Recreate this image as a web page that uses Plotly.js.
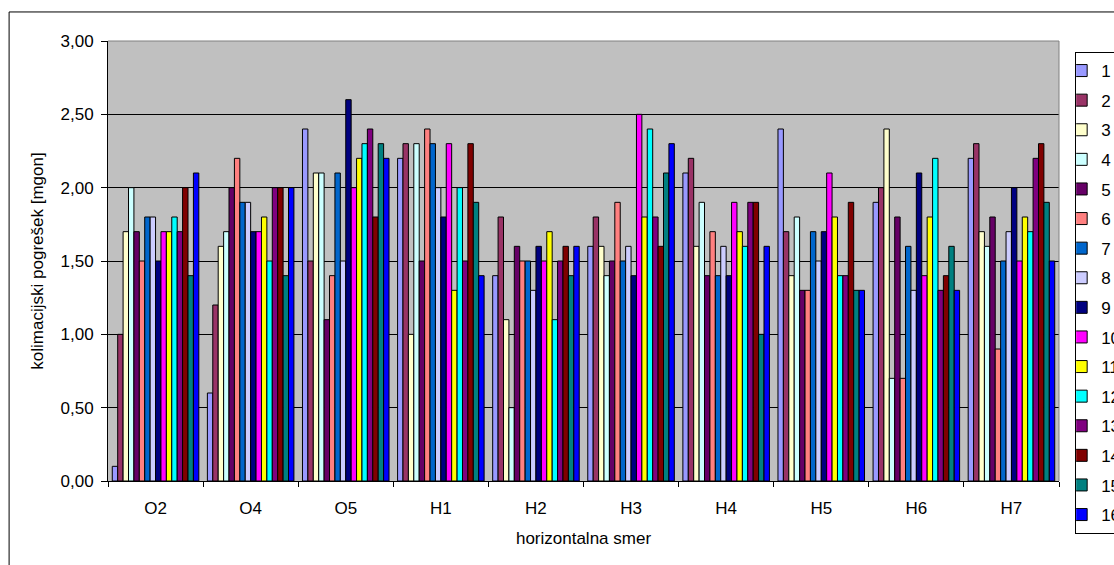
<!DOCTYPE html>
<html>
<head>
<meta charset="utf-8">
<script src="https://cdn.plot.ly/plotly-3.0.1.min.js"></script>
<style>
  html, body { margin: 0; padding: 0; background: #fff; }
  #chart { width: 1114px; height: 565px; }
</style>
</head>
<body>
<div id="chart"></div>
<script>
// Stations (horizontal directions) on the category axis
const categories = ['O2', 'O4', 'O5', 'H1', 'H2', 'H3', 'H4', 'H5', 'H6', 'H7'];

// Series labels (measurement sets 1..16)
const seriesNames = ['1', '2', '3', '4', '5', '6', '7', '8', '9', '10', '11', '12', '13', '14', '15', '16'];

// Collimation error [mgon] per measurement set, one value per direction
const s1  = [0.1, 0.6, 2.4, 2.2, 1.4, 1.6, 2.1, 2.4, 1.9, 2.2];
const s2  = [1.0, 1.2, 1.5, 2.3, 1.8, 1.8, 2.2, 1.7, 2.0, 2.3];
const s3  = [1.7, 1.6, 2.1, 1.0, 1.1, 1.6, 1.6, 1.4, 2.4, 1.7];
const s4  = [2.0, 1.7, 2.1, 2.3, 0.5, 1.4, 1.9, 1.8, 0.7, 1.6];
const s5  = [1.7, 2.0, 1.1, 1.5, 1.6, 1.5, 1.4, 1.3, 1.8, 1.8];
const s6  = [1.5, 2.2, 1.4, 2.4, 1.5, 1.9, 1.7, 1.3, 0.7, 0.9];
const s7  = [1.8, 1.9, 2.1, 2.3, 1.5, 1.5, 1.4, 1.7, 1.6, 1.5];
const s8  = [1.8, 1.9, 1.5, 2.0, 1.3, 1.6, 1.6, 1.5, 1.3, 1.7];
const s9  = [1.5, 1.7, 2.6, 1.8, 1.6, 1.4, 1.4, 1.7, 2.1, 2.0];
const s10 = [1.7, 1.7, 2.0, 2.3, 1.5, 2.5, 1.9, 2.1, 1.4, 1.5];
const s11 = [1.7, 1.8, 2.2, 1.3, 1.7, 1.8, 1.7, 1.8, 1.8, 1.8];
const s12 = [1.8, 1.5, 2.3, 2.0, 1.1, 2.4, 1.6, 1.4, 2.2, 1.7];
const s13 = [1.7, 2.0, 2.4, 1.5, 1.5, 1.8, 1.9, 1.4, 1.3, 2.2];
const s14 = [2.0, 2.0, 1.8, 2.3, 1.6, 1.6, 1.9, 1.9, 1.4, 2.3];
const s15 = [1.4, 1.4, 2.3, 1.9, 1.4, 2.1, 1.0, 1.3, 1.6, 1.9];
const s16 = [2.1, 2.0, 2.2, 1.4, 1.6, 2.3, 1.6, 1.3, 1.3, 1.5];

const seriesValues = [s1, s2, s3, s4, s5, s6, s7, s8, s9, s10, s11, s12, s13, s14, s15, s16];

// Classic spreadsheet palette for the 16 series
const seriesColors = [
  '#9999FF', '#993366', '#FFFFCC', '#CCFFFF', '#660066', '#FF8080', '#0066CC', '#CCCCFF',
  '#000080', '#FF00FF', '#FFFF00', '#00FFFF', '#800080', '#800000', '#008080', '#0000FF'
];

const FONT = 'Liberation Sans, Arial, Helvetica, sans-serif';

const traces = seriesValues.map((vals, i) => ({
  type: 'bar',
  name: seriesNames[i],
  legendgroup: 'g' + i,
  x: categories,
  y: vals,
  marker: { color: seriesColors[i], line: { color: '#000000', width: 1 } },
  hovertemplate: '%{x}: %{y:.2f}<extra>' + seriesNames[i] + '</extra>'
}));

const layout = {
  width: 1114,
  height: 565,
  margin: { l: 107.5, r: 54.5, t: 41, b: 84, autoexpand: false },
  paper_bgcolor: '#FFFFFF',
  plot_bgcolor: '#C0C0C0',
  separators: ',.',
  font: { family: FONT, size: 17, color: '#000000' },
  barmode: 'group',
  bargap: 0.09,
  bargroupgap: 0,
  xaxis: {
    type: 'category',
    categoryorder: 'array',
    categoryarray: categories,
    showgrid: false,
    zeroline: false,
    showline: true,
    linecolor: '#000000',
    linewidth: 1,
    ticks: 'outside',
    tickson: 'boundaries',
    ticklen: 5,
    tickcolor: '#000000',
    ticklabelstandoff: 12,
    tickfont: { family: FONT, size: 17 },
    title: { text: 'horizontalna smer', font: { family: FONT, size: 17 }, standoff: 14 }
  },
  yaxis: {
    range: [0, 3],
    dtick: 0.5,
    tick0: 0,
    tickformat: '.2f',
    showgrid: true,
    gridcolor: '#000000',
    gridwidth: 1,
    zeroline: false,
    showline: true,
    linecolor: '#000000',
    linewidth: 1,
    ticks: 'outside',
    ticklen: 6,
    tickcolor: '#000000',
    ticklabelstandoff: 4,
    tickfont: { family: FONT, size: 17 },
    title: { text: 'kolimacijski pogrešek [mgon]', font: { family: FONT, size: 17 }, standoff: 12 }
  },
  showlegend: true,
  legend: {
    x: 1.017,
    xanchor: 'left',
    y: 0.975,
    yanchor: 'top',
    maxheight: 560,
    indentation: -15,
    bgcolor: '#FFFFFF',
    bordercolor: '#000000',
    borderwidth: 1,
    traceorder: 'grouped',
    tracegroupgap: 4.5,
    font: { family: FONT, size: 17 }
  },
  shapes: [
    // plot-area frame (top and right edges)
    { type: 'line', xref: 'paper', yref: 'paper', x0: 0, x1: 1, y0: 1, y1: 1,
      line: { color: '#808080', width: 1 }, layer: 'above' },
    { type: 'line', xref: 'paper', yref: 'paper', x0: 1, x1: 1, y0: 0, y1: 1,
      line: { color: '#808080', width: 1 }, layer: 'above' },
    // chart-area border
    { type: 'rect', xref: 'paper', yref: 'paper', x0: -0.104, x1: 1.2, y0: -0.3, y1: 1.066,
      line: { color: '#000000', width: 1 }, fillcolor: 'rgba(0,0,0,0)', layer: 'below' }
  ]
};

Plotly.newPlot('chart', traces, layout, { displayModeBar: false, responsive: false });
</script>
</body>
</html>
